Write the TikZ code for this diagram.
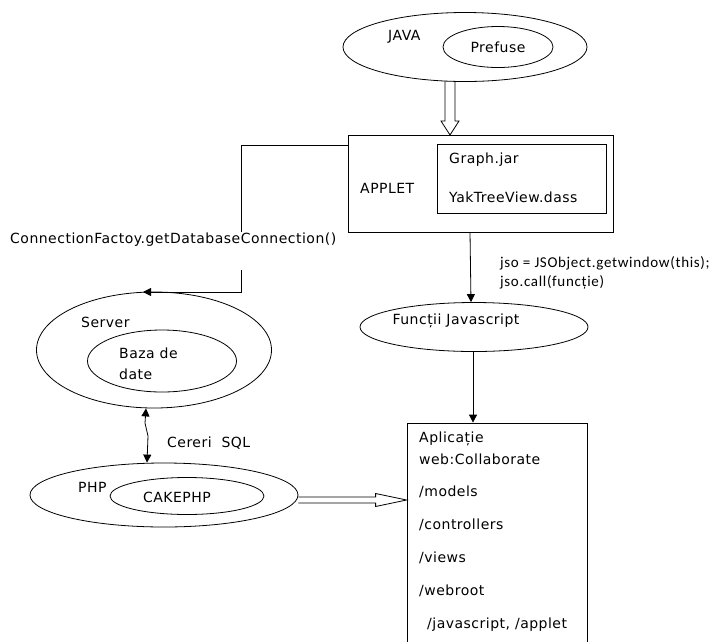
\documentclass[tikz,border=0pt]{standalone}
\usepackage{fontspec}
\setmainfont{DejaVu Sans}[LetterSpace=3.5]
\newfontfamily\calib{Carlito}[LetterSpace=4.5]
\usetikzlibrary{shapes.geometric,arrows.meta,calc}
\begin{document}
\begin{tikzpicture}[x=1pt,y=-1pt,
  ell/.style={draw,ellipse,inner sep=0pt,line width=0.8pt},
  box/.style={draw,rectangle,inner sep=0pt,line width=0.8pt},
  lab/.style={inner sep=0pt,anchor=west,font=\fontsize{14}{16}\selectfont},
  conn/.style={line width=0.8pt,-{Triangle[length=8pt,width=8pt]}},
  wide/.style={line width=0.8pt,line join=miter}]
\useasboundingbox (0,0) rectangle (710,641);
% JAVA
\node[ell,minimum width=244pt,minimum height=69pt] (java) at (465,47) {};
\node[ell,minimum width=110pt,minimum height=41pt] (prefuse) at (498,47) {};
\node[lab] (javal) at (388,37) {JAVA};
\node[lab,anchor=center] (prefl) at (498,47) {Prefuse};
% APPLET
\node[box,minimum width=265pt,minimum height=97pt] (applet) at (480.5,183.5) {};
\node[box,minimum width=169pt,minimum height=69pt] (inner) at (521.5,178.5) {};
\node[lab] (appl) at (360,188) {APPLET};
\node[lab] (graph) at (449,160) {Graph.jar};
\node[lab] (yak) at (449,197) {YakTreeView.dass};
% open arrow JAVA -> APPLET
\coordinate (jb) at (450,81);
\coordinate (at) at (450,135);
\draw[wide] ($(jb)+(-5,0)$) -- ($(at)+(-5,-14)$) -- ($(at)+(-9,-14)$) -- (at)
  -- ($(at)+(9,-14)$) -- ($(at)+(5,-14)$) -- ($(jb)+(5,0)$);
% Functii
\node[ell,minimum width=228pt,minimum height=49pt] (func) at (474,327) {};
\node[lab,anchor=center] (funcl) at (456,321) {Funcții Javascript};
\draw[conn] (470,232) -- (func.north -| 471,0);
\node[lab,font=\calib\fontsize{15}{17}\selectfont] (jso1) at (500,263) {jso = JSObject.getwindow(this);};
\node[lab,font=\calib\fontsize{15}{17}\selectfont] (jso2) at (500,282) {jso.call(funcție)};
% App box
\node[box,minimum width=180pt,minimum height=237pt] (app) at (497,541.5) {};
\draw[conn] (func.south -| 473,0) -- (app.north -| 473,0);
\node[lab] (t1) at (419,439) {Aplicație};
\node[lab] (t2) at (419,459) {web:Collaborate};
\node[lab] (t3) at (419,492) {/models};
\node[lab] (t4) at (419,525) {/controllers};
\node[lab] (t5) at (419,558) {/views};
\node[lab] (t6) at (419,591) {/webroot};
\node[lab] (t7) at (427,625) {/javascript, /applet};
% Server
\node[ell,minimum width=235pt,minimum height=116pt] (server) at (154,350) {};
\node[ell,minimum width=149pt,minimum height=62pt] (baza) at (162,361) {};
\node[lab] (serverl) at (81,322) {Server};
\node[lab] (baza1) at (119,353) {Baza de};
\node[lab] (baza2) at (119,374) {date};
% Connection line
\coordinate (c0) at (applet.west |- 0,145);
\coordinate (c1) at (241,232);
\coordinate (c2) at (241,270);
\coordinate (c3) at (143,292);
\draw[line width=0.8pt] (c0) -| (c1);
\draw[conn] (c2) |- (c3);
\node[lab] (connl) at (10,240) {ConnectionFactoy.getDatabaseConnection()};
% PHP
\node[ell,minimum width=268pt,minimum height=64pt] (php) at (164,495) {};
\node[ell,minimum width=154pt,minimum height=37pt] (cake) at (187,496) {};
\node[lab] (phpl) at (78,487) {PHP};
\node[lab,anchor=center] (cakel) at (177,497) {CAKEPHP};
% Cereri SQL
\draw[line width=0.8pt,{Triangle[length=8pt,width=8pt]}-{Triangle[length=8pt,width=8pt]}]
  (server.south -| 146,0) -- (145,423) -- (148,436) -- (php.north -| 147,0);
\node[lab] (sql) at (167,443) {Cereri\ \ SQL};
% open arrow PHP -> app
\coordinate (pr) at (php.east |- 0,500);
\coordinate (al) at (app.west |- 0,500);
\draw[wide] ($(pr)+(0,-3)$) -- ($(al)+(-31,-3)$) -- ($(al)+(-31,-6.5)$) -- (al)
  -- ($(al)+(-31,6.5)$) -- ($(al)+(-31,3)$) -- ($(pr)+(0,3)$);
\end{tikzpicture}
\end{document}
